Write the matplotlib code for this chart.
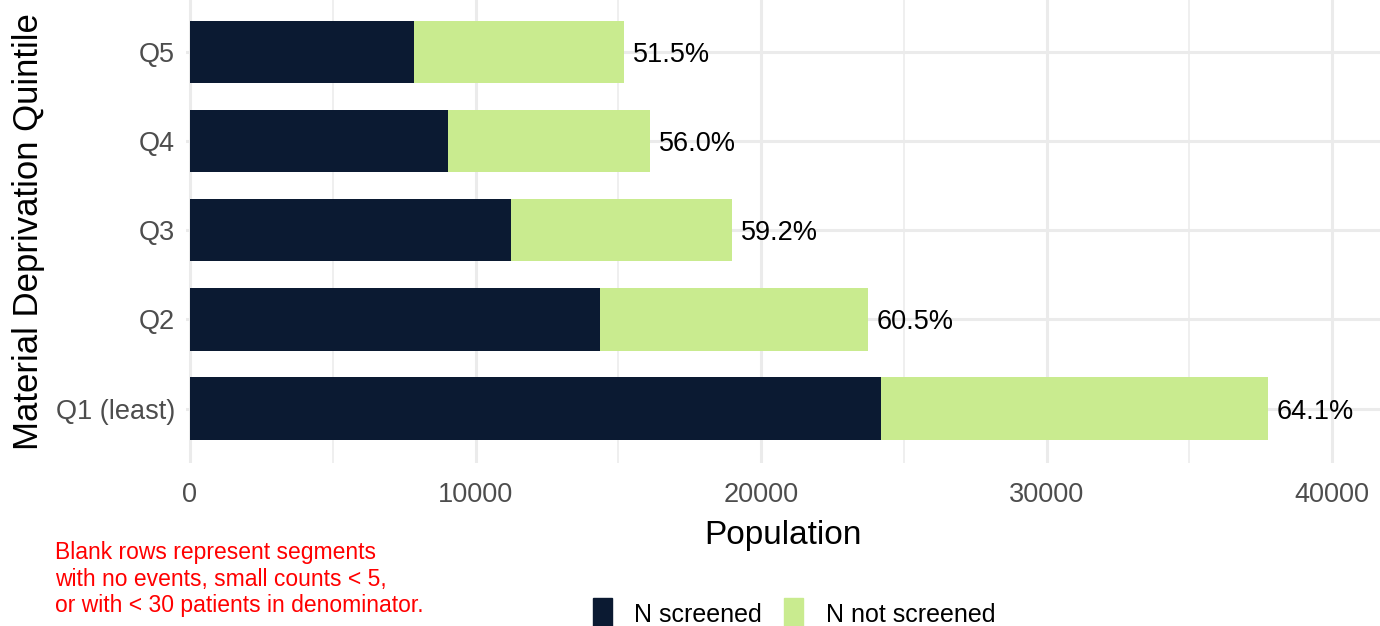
import numpy as np
import matplotlib.pyplot as plt
from matplotlib.patches import Patch

plt.rcParams['font.family'] = ['Liberation Sans', 'DejaVu Sans']

quintiles = ['Q1 (least)', 'Q2', 'Q3', 'Q4', 'Q5']
screened = [24200, 14370, 11240, 9030, 7830]
not_screened = [13550, 9380, 7745, 7085, 7370]
pct_labels = ['64.1%', '60.5%', '59.2%', '56.0%', '51.5%']

navy = '#0B1A32'
green = '#C9EB8F'

fig = plt.figure(figsize=(13.8, 6.26), dpi=100)
ax = fig.add_axes([186 / 1380, (626 - 463) / 626, 1 - 186 / 1380, 463 / 626])

y = np.arange(1, len(quintiles) + 1)
screened = np.array(screened)
not_screened = np.array(not_screened)
total = screened + not_screened

ax.barh(y, screened, height=0.7, color=navy, zorder=2)
ax.barh(y, not_screened, left=screened, height=0.7, color=green, zorder=2)

for yi, t, lab in zip(y, total, pct_labels):
    ax.text(t + 300, yi, lab, va='center_baseline', ha='left', fontsize=19.5, color='black', zorder=3)

ax.set_xlim(-140, 41680)
ax.set_ylim(0.39, 5.58)
ax.set_xticks([0, 10000, 20000, 30000, 40000])
ax.set_xticks([5000, 15000, 25000, 35000], minor=True)
ax.set_yticks(y)
ax.set_yticklabels(quintiles)
ax.tick_params(axis='both', which='both', length=0, labelsize=19.5, labelcolor='#4D4D4D')
ax.tick_params(axis='x', pad=14)
ax.tick_params(axis='y', pad=8)
ax.grid(which='major', color='#EBEBEB', linewidth=2.2, zorder=0)
ax.grid(which='minor', axis='x', color='#EBEBEB', linewidth=1.1, zorder=0)
ax.set_axisbelow(True)
for s in ax.spines.values():
    s.set_visible(False)

ax.set_xlabel('Population', fontsize=24, labelpad=8)
ax.set_ylabel('Material Deprivation Quintile', fontsize=25, labelpad=8)

fig.text(55 / 1380, 1 - 541 / 626,
         'Blank rows represent segments\nwith no events, small counts < 5,\nor with < 30 patients in denominator.',
         color='red', fontsize=16.5, va='top', ha='left', linespacing=1.2)

handles = [Patch(color=navy, label='N screened'), Patch(color=green, label='N not screened')]
fig.legend(handles=handles, loc='center', bbox_to_anchor=(794 / 1380, 1 - 614 / 626),
           ncol=2, frameon=False, fontsize=18, handlelength=0.75, handleheight=1.6,
           handletextpad=0.9, columnspacing=0.9)

fig.savefig('out.png', dpi=100)
